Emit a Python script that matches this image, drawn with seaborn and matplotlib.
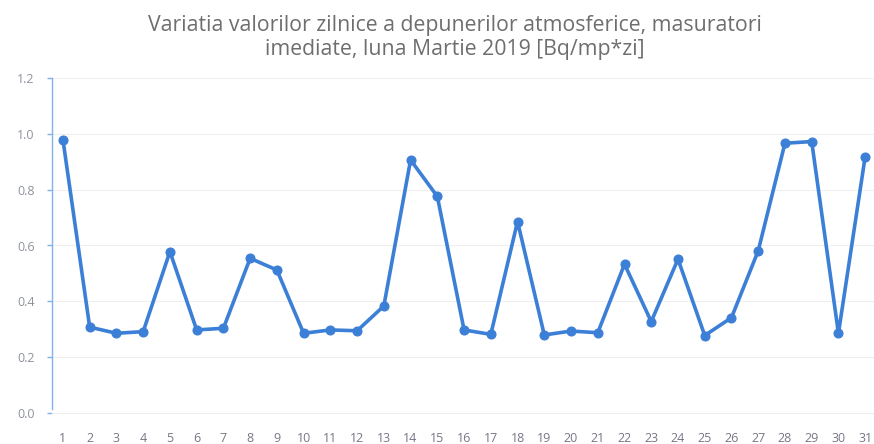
import matplotlib
matplotlib.use("Agg")
import matplotlib.pyplot as plt
import seaborn as sns
import pandas as pd

days = list(range(1, 32))
values = [0.979, 0.307, 0.285, 0.291, 0.578, 0.297, 0.303, 0.554, 0.512, 0.285,
          0.297, 0.294, 0.383, 0.907, 0.776, 0.297, 0.281, 0.686, 0.279, 0.293,
          0.287, 0.533, 0.327, 0.551, 0.277, 0.341, 0.581, 0.967, 0.973, 0.285, 0.919]
y_ticks = [0.0, 0.2, 0.4, 0.6, 0.8, 1.0, 1.2]
title = "Variatia valorilor zilnice a depunerilor atmosferice, masuratori\nimediate, luna Martie 2019 [Bq/mp*zi]"

df = pd.DataFrame({"zi": days, "valoare": values})

sns.set_theme(style="white")
plt.rcParams['font.family'] = ['Open Sans', 'DejaVu Sans']

fig = plt.figure(figsize=(8.74, 4.44), dpi=100)
ax = fig.add_axes([52/874, 1 - 412.7/444, 1 - 52/874, (412.7 - 78.3)/444])

line_color = "#3b7fd6"
sns.lineplot(data=df, x="zi", y="valoare", ax=ax, color=line_color, linewidth=2.6,
             marker="o", markersize=6.5, markeredgecolor=line_color, clip_on=False)

ax.set_xlim(0.59, 31.33)
ax.set_ylim(0, 1.2)
ax.set_xticks(days)
ax.set_xticklabels([str(d) for d in days])
ax.set_yticks(y_ticks)
ax.set_yticklabels([f"{t:.1f}" for t in y_ticks])
ax.set_xlabel("")
ax.set_ylabel("")

for t in y_ticks[1:]:
    ax.axhline(t, color="#efefef", linewidth=0.8, zorder=0)

for s in ["top", "right"]:
    ax.spines[s].set_visible(False)
ax.spines["bottom"].set_color("#eeeeee")
ax.spines["bottom"].set_linewidth(0.8)
ax.spines["left"].set_color("#7fb2ea")
ax.spines["left"].set_linewidth(1.0)
ax.spines["left"].set_bounds(0.015, 1.2)

ax.tick_params(axis="y", which="both", left=True, direction="out", length=3.5, width=1,
               color="#7fb2ea", labelsize=9, labelcolor="#8f939c", pad=9)
ax.tick_params(axis="x", which="both", bottom=False, labelsize=9, labelcolor="#7a7585", pad=8)

fig.text(0.52, 0.967, title, ha="center", va="top", fontsize=15.3, color="#6e6e6e",
         linespacing=1.2)

fig.savefig("out.png", dpi=100, facecolor="white")
